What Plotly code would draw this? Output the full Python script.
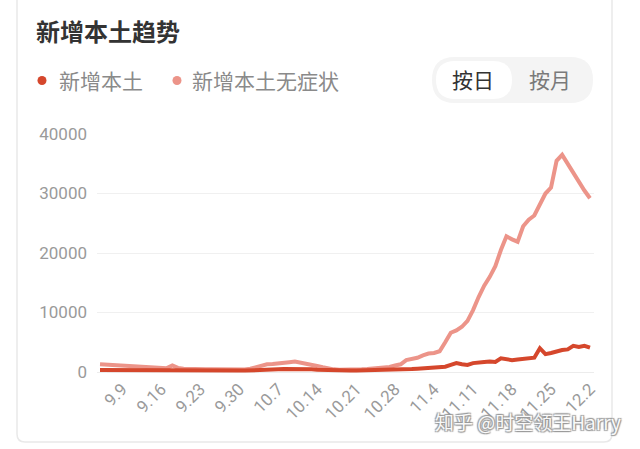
import plotly.graph_objects as go
import pandas as pd

# ---------------- data ----------------
dates = [f"{d.month}.{d.day}" for d in pd.date_range("2022-09-05", "2022-12-02", freq="D")]

confirmed = [350, 340, 330, 320, 300, 290, 280, 270, 260, 250, 240, 230, 220, 220, 210, 200,
             200, 200, 200, 200, 200, 200, 210, 220, 230, 240, 250, 260, 280, 300, 330,
             400, 450, 500, 520, 500, 480, 470, 450, 400, 350,
             300, 280, 260, 250, 250, 250, 260, 270, 280, 300, 320, 350, 380, 420, 460,
             500, 550, 600, 650, 700, 800, 900, 1200, 1500, 1300, 1200, 1500, 1650, 1700,
             1750, 1700, 2300, 2200, 2000, 2100, 2150, 2200, 2400, 4000, 3000, 3200, 3500,
             3700, 3800, 4400, 4200, 4400, 4100]

asymptomatic = [1300, 1250, 1200, 1150, 1100, 1050, 1000, 950, 900, 850, 800, 750, 650,
                1100,
                700, 550, 500, 480, 450, 460, 470, 450, 430, 440, 450, 420, 420,
                550, 800, 1100, 1300, 1350, 1400, 1500, 1650, 1750, 1600, 1400, 1200, 1000, 800, 600,
                450, 400, 380, 400, 420, 450, 500, 550, 600, 700, 850, 1100, 1300,
                2000, 2200, 2400, 2800, 3100, 3200, 3500,
                5000, 6600, 7000, 7600, 8600, 10400, 12600, 14500, 16000, 17800, 20500, 22800,
                22300, 21900, 24500, 25600, 26300, 28000, 30000, 31000, 35500, 36500, 35000,
                33300, 31800, 30500, 29200]

tick_labels = ["9.9", "9.16", "9.23", "9.30", "10.7", "10.14", "10.21", "10.28",
               "11.4", "11.11", "11.18", "11.25", "12.2"]
y_ticks = [0, 10000, 20000, 30000, 40000]

series_names = ["新增本土", "新增本土无症状"]
title_text = "新增本土趋势"
toggle_labels = ["按日", "按月"]
watermark = "知乎 @时空领王Harry"

# ---------------- layout geometry ----------------
W, H = 640, 449
L, R, T, B = 97, 46, 134, 74
PW, PH = W - L - R, H - T - B

def px(x):
    return (x - L) / PW

def py(y):
    return 1 - (y - T) / PH

C_CONF = "#d5472c"
C_ASYM = "#ec9489"
FONT = "Roboto, 'Noto Sans CJK SC', sans-serif"
CJK = "'Noto Sans CJK SC', sans-serif"

fig = go.Figure()
fig.add_trace(go.Scatter(x=dates, y=asymptomatic, mode="lines", name=series_names[1],
                         line=dict(color=C_ASYM, width=4), showlegend=False))
fig.add_trace(go.Scatter(x=dates, y=confirmed, mode="lines", name=series_names[0],
                         line=dict(color=C_CONF, width=4), showlegend=False))

def rrect(x0, y0, x1, y1, r):
    X0, X1 = px(x0), px(x1)
    Y0, Y1 = py(y0), py(y1)
    rx = r / PW
    ry = r / PH
    return (f"M {X0+rx},{Y0} L {X1-rx},{Y0} Q {X1},{Y0} {X1},{Y0-ry} "
            f"L {X1},{Y1+ry} Q {X1},{Y1} {X1-rx},{Y1} L {X0+rx},{Y1} "
            f"Q {X0},{Y1} {X0},{Y1+ry} L {X0},{Y0-ry} Q {X0},{Y0} {X0+rx},{Y0} Z")

shapes = [
    dict(type="path", xref="paper", yref="paper", path=rrect(17, -20, 612, 442, 8),
         line=dict(color="#e9e9e9", width=1.5), fillcolor="rgba(0,0,0,0)", layer="below"),
    dict(type="path", xref="paper", yref="paper", path=rrect(432, 57, 593, 103, 23),
         line=dict(width=0), fillcolor="#f4f4f4", layer="below"),
    dict(type="path", xref="paper", yref="paper", path=rrect(436, 61, 512, 99, 19),
         line=dict(width=0), fillcolor="#ffffff", layer="below"),
    dict(type="circle", xref="paper", yref="paper", x0=px(37.5), x1=px(46.5), y0=py(76), y1=py(85),
         line=dict(width=0), fillcolor=C_CONF),
    dict(type="circle", xref="paper", yref="paper", x0=px(172.5), x1=px(181.5), y0=py(76), y1=py(85),
         line=dict(width=0), fillcolor=C_ASYM),
]

annotations = [
    dict(text=f"<b>{title_text}</b>", x=px(34), y=py(30), xref="paper", yref="paper",
         xanchor="left", yanchor="middle", showarrow=False,
         font=dict(family=CJK, size=24, color="#333333")),
    dict(text=series_names[0], x=px(57), y=py(80), xref="paper", yref="paper",
         xanchor="left", yanchor="middle", showarrow=False,
         font=dict(family=CJK, size=21, color="#8a8a8a")),
    dict(text=series_names[1], x=px(190), y=py(80), xref="paper", yref="paper",
         xanchor="left", yanchor="middle", showarrow=False,
         font=dict(family=CJK, size=21, color="#8a8a8a")),
    dict(text=toggle_labels[0], x=px(473), y=py(79), xref="paper", yref="paper",
         xanchor="center", yanchor="middle", showarrow=False,
         font=dict(family=CJK, size=21, color="#333333")),
    dict(text=toggle_labels[1], x=px(550), y=py(79), xref="paper", yref="paper",
         xanchor="center", yanchor="middle", showarrow=False,
         font=dict(family=CJK, size=21, color="#7a7a7a")),
    dict(text=watermark, x=px(623), y=py(421), xref="paper", yref="paper",
         xanchor="right", yanchor="middle", showarrow=False,
         font=dict(family=CJK, size=19, color="rgba(255,255,255,0.95)",
                   shadow="1px 1px 1px #999, -1px -1px 1px #999, 1px -1px 1px #999, -1px 1px 1px #999")),
]

fig.update_layout(
    width=W, height=H,
    margin=dict(l=L, r=R, t=T, b=B),
    paper_bgcolor="white", plot_bgcolor="white",
    font=dict(family=FONT),
    shapes=shapes, annotations=annotations,
    xaxis=dict(type="category", range=[-0.54, len(dates) - 1 + 0.72],
               tickmode="array", tickvals=tick_labels, ticktext=tick_labels,
               tickangle=-45, showgrid=False, zeroline=False, showline=False,
               ticks="", ticklabelstandoff=0,
               tickfont=dict(family=FONT, size=17, color="#9a9a9a")),
    yaxis=dict(range=[-500, 40000], tickmode="array", tickvals=y_ticks,
               ticktext=[str(v) for v in y_ticks],
               showgrid=True, gridcolor="#f0f0f0", gridwidth=1,
               zeroline=True, zerolinecolor="#ececec", zerolinewidth=1,
               showline=False, ticks="", ticklabelstandoff=9,
               tickfont=dict(family=FONT, size=17, color="#9a9a9a")),
)

fig.write_html("out.html")
